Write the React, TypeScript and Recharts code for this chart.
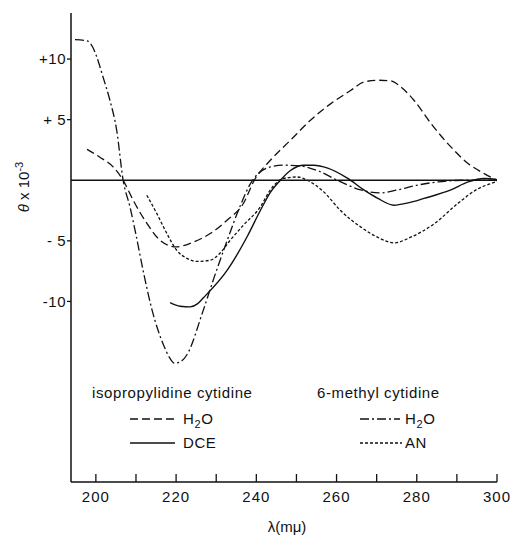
import React from "react";
import { LineChart, Line, XAxis, YAxis, ReferenceLine } from "recharts";

// wavelength (mμ) vs θ x 10^-3
const isoH2O: [number, number][] = [
  [197.8, 2.55], [201, 1.9], [204.3, 1.1], [206.8, 0], [209.3, -1.65], [212.8, -3.6],
  [216, -4.95], [220, -5.5], [224.3, -5.1], [228.5, -4.4], [232.7, -3.3], [236.8, -1.9],
  [239.5, 0], [243.5, 1.65], [248.5, 3.3], [253.5, 4.95], [258.5, 6.3], [263.5, 7.4],
  [266.8, 8.1], [270.2, 8.25], [273.5, 8.2], [276, 7.7], [279.3, 6.6], [283.5, 4.7],
  [288.5, 2.75], [292.7, 1.4], [296.8, 0.55], [300, 0],
];

const isoDCE: [number, number][] = [
  [218.5, -10.1], [221, -10.4], [223.5, -10.45], [225.3, -10.2], [226.8, -9.7],
  [232.8, -7.4], [237.8, -4.6], [241, -2.5], [243.5, -1.0], [246, 0], [248.5, 0.8],
  [251.8, 1.24], [254.3, 1.24], [257.8, 1.0], [262.8, 0.15], [266.8, -0.8],
  [270.3, -1.5], [274.3, -2.06], [277.8, -1.87], [281.8, -1.5], [288.5, -0.8],
  [292.8, -0.14], [296.8, 0.14], [300, 0.05],
];

const methylH2O: [number, number][] = [
  [194.8, 11.6], [197.8, 11.5], [199.2, 11.0], [200.2, 10.2], [201.8, 8.5], [203.5, 6.6],
  [205.2, 4.1], [206.8, 0], [208.5, -2.2], [210, -4.5], [212, -7.8], [214, -10.7],
  [217, -13.7], [218.3, -14.6], [219.6, -15.1], [221, -15.0], [222.7, -14.4],
  [226.7, -10.8], [229.4, -8.1], [232.7, -5], [236, -2.1], [238.5, -0.3], [243.5, 1.1],
  [246.8, 1.24], [251, 1.18], [255.2, 0.8], [260.2, 0], [266, -0.8], [271, -1.05],
  [275.2, -0.8], [280.2, -0.4], [285.2, -0.14], [291.8, 0], [300, 0],
];

const methylAN: [number, number][] = [
  [212.7, -1.24], [215.2, -2.75], [217.7, -4.4], [220.2, -5.8], [222.7, -6.45],
  [225.2, -6.7], [228.5, -6.6], [231, -6.0], [233.5, -4.95], [236.8, -3.7],
  [241, -2.2], [243.5, -0.8], [246.8, 0.15], [250.2, 0.27], [252.7, 0],
  [256.8, -0.96], [261, -2.5], [266, -3.85], [270.2, -4.7], [274.3, -5.17],
  [278.5, -4.7], [284.3, -3.6], [290.3, -1.9], [295.3, -0.7], [298.5, -0.27], [300, -0.1],
];

const lambdaTicks = [200, 210, 220, 230, 240, 250, 260, 270, 280, 290, 300];
const lambdaLabels = [200, 220, 240, 260, 280, 300];
const thetaTicks = [10, 5, -5, -10];
const thetaLabels = ["+10", "+ 5", "- 5", "-10"];

const FONT = "'Liberation Sans', Arial, sans-serif";
const INK = "#111";

const pts = (arr: [number, number][]) => arr.map(([l, t]) => ({ l, t }));

function XTick(props: any) {
  const { x, y, payload } = props;
  const v = payload.value;
  return (
    <g>
      <line x1={x} x2={x} y1={y} y2={y - 8} stroke={INK} strokeWidth={1.3} />
      {lambdaLabels.includes(v) && (
        <text x={x} y={y + 20} textAnchor="middle" fontSize={15} letterSpacing={1}
          fontFamily={FONT} fill={INK}>
          {v}
        </text>
      )}
    </g>
  );
}

function LegendOverlay() {
  const txt = { fontFamily: FONT, fontSize: 15, fill: INK, letterSpacing: 0.6 } as const;
  const h2o = (x: number, y: number) => (
    <text x={x} y={y} {...txt}>
      H<tspan fontSize={11} dy={4}>2</tspan><tspan dy={-4}>O</tspan>
    </text>
  );
  return (
    <svg width={510} height={535} style={{ position: "absolute", left: 0, top: 0, pointerEvents: "none" }}>
      <text x={92} y={398} {...txt}>isopropylidine cytidine</text>
      <text x={317} y={398} {...txt}>6-methyl cytidine</text>

      <line x1={130} x2={175} y1={419} y2={419} stroke={INK} strokeWidth={1.3} strokeDasharray="8 4" />
      {h2o(183, 424)}
      <line x1={130} x2={175} y1={443} y2={443} stroke={INK} strokeWidth={1.3} />
      <text x={183} y={448} {...txt}>DCE</text>

      <line x1={360} x2={400} y1={419} y2={419} stroke={INK} strokeWidth={1.3} strokeDasharray="9 3 2 3" />
      {h2o(405, 424)}
      <line x1={360} x2={402} y1={443} y2={443} stroke={INK} strokeWidth={1.3} strokeDasharray="3 2" />
      <text x={405} y={448} {...txt}>AN</text>

      <text transform="translate(29,187) rotate(-90)" textAnchor="middle" fontFamily={FONT}
        fontSize={15} fill={INK}>
        <tspan fontStyle="italic">θ</tspan> x 10<tspan fontSize={11} dy={-6}>-3</tspan>
      </text>
      <text x={287} y={532} textAnchor="middle" fontFamily={FONT} fontSize={15} fill={INK}>
        λ(mμ)
      </text>
    </svg>
  );
}

export default function App() {
  return (
    <div style={{ position: "absolute", left: 0, top: 0, width: 510, height: 535, background: "#fff" }}>
      <LineChart width={510} height={535} margin={{ top: 13, right: 13, bottom: 0, left: 0 }}>
        <XAxis
          type="number"
          dataKey="l"
          domain={[193.8, 300]}
          allowDataOverflow
          ticks={lambdaTicks}
          tick={<XTick />}
          tickLine={false}
          tickSize={0}
          tickMargin={0}
          height={53}
          axisLine={{ stroke: INK, strokeWidth: 1.5 }}
        />
        <YAxis
          type="number"
          dataKey="t"
          domain={[-24.9, 13.8]}
          allowDataOverflow
          ticks={thetaTicks}
          tickFormatter={(v: number) => thetaLabels[thetaTicks.indexOf(v)]}
          width={71}
          tickSize={4}
          tickMargin={1}
          tick={{ fontSize: 15, fontFamily: FONT, fill: INK, letterSpacing: 0.5 }}
          tickLine={{ stroke: INK, strokeWidth: 1.3 }}
          axisLine={{ stroke: INK, strokeWidth: 1.5 }}
        />
        <ReferenceLine y={0} stroke={INK} strokeWidth={1.3} />
        <Line data={pts(isoH2O)} dataKey="t" type="monotone" stroke={INK} strokeWidth={1.3}
          strokeDasharray="8 4" dot={false} isAnimationActive={false} />
        <Line data={pts(isoDCE)} dataKey="t" type="monotone" stroke={INK} strokeWidth={1.4}
          dot={false} isAnimationActive={false} />
        <Line data={pts(methylH2O)} dataKey="t" type="monotone" stroke={INK} strokeWidth={1.3}
          strokeDasharray="9 3 2 3" dot={false} isAnimationActive={false} />
        <Line data={pts(methylAN)} dataKey="t" type="monotone" stroke={INK} strokeWidth={1.3}
          strokeDasharray="3 2" dot={false} isAnimationActive={false} />
      </LineChart>
      <LegendOverlay />
    </div>
  );
}
